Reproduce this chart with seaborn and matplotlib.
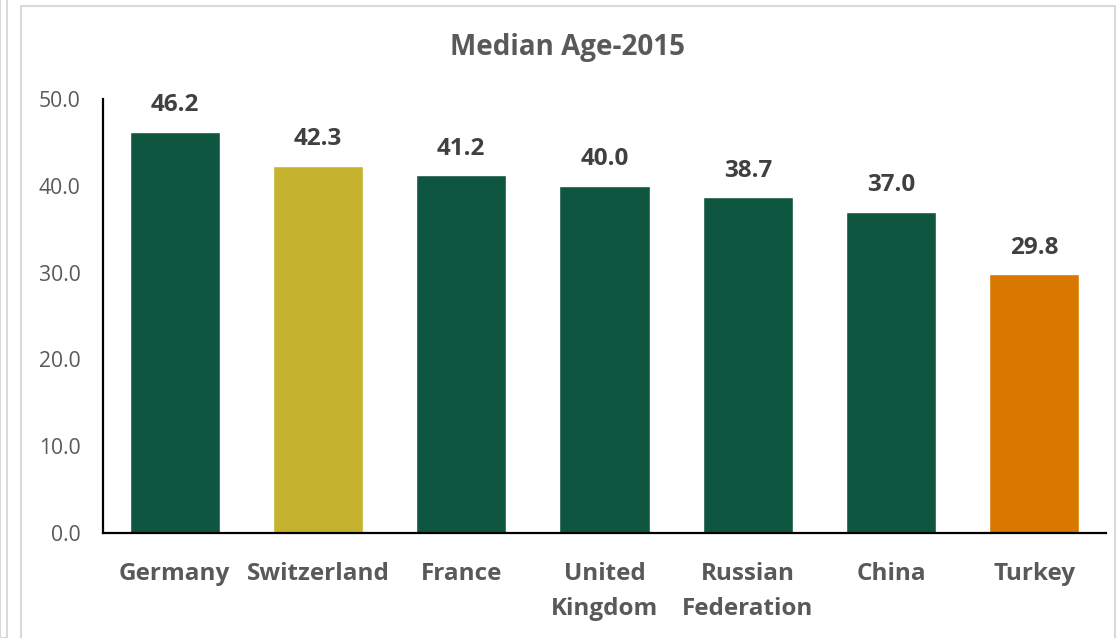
import matplotlib
matplotlib.use("Agg")
import matplotlib.pyplot as plt
import seaborn as sns
import pandas as pd
from matplotlib.patches import Rectangle

countries = ["Germany", "Switzerland", "France", "United\nKingdom", "Russian\nFederation", "China", "Turkey"]
median_age = [46.2, 42.3, 41.2, 40.0, 38.7, 37.0, 29.8]
bar_colors = ["#0F5641", "#C5B22F", "#0F5641", "#0F5641", "#0F5641", "#0F5641", "#D97800"]
yticks = [0, 10, 20, 30, 40, 50]
title = "Median Age-2015"

sns.set_theme(style="white")
plt.rcParams['font.family'] = ['Open Sans', 'DejaVu Sans']

df = pd.DataFrame({"country": countries, "age": median_age})

fig = plt.figure(figsize=(11.2, 6.38), dpi=100)
# chart frame
fig.patches.append(Rectangle((21/1120, -0.05), (1115-21)/1120, (638-6)/638 + 0.05,
                             transform=fig.transFigure, fill=False, edgecolor="#D9D9D9", lw=1.5))
fig.patches.append(Rectangle((0, 0), 7/1120, 1.2, transform=fig.transFigure,
                             fill=False, edgecolor="#D9D9D9", lw=1.5))

ax = fig.add_axes([103/1120, (638-533)/638, (1106-103)/1120, (533-99)/638])
sns.barplot(data=df, x="country", y="age", hue="country", palette=bar_colors,
            legend=False, width=0.63, ax=ax, saturation=1)

ax.set_ylim(0, 50)
ax.set_xlim(-0.5, len(countries) - 0.5)
ax.set_yticks(yticks)
ax.set_yticklabels([f"{v:.1f}" for v in yticks], color="#595959", fontsize=15.2)
ax.tick_params(axis="y", length=0, pad=16)
ax.tick_params(axis="x", length=0, pad=21)
for lab in ax.get_xticklabels():
    lab.set_fontweight("bold")
    lab.set_fontsize(17.5)
    lab.set_color("#595959")
    lab.set_linespacing(1.6)
    lab.set_verticalalignment("top")
ax.set_xlabel("")
ax.set_ylabel("")
for s in ["top", "right"]:
    ax.spines[s].set_visible(False)
for s in ["left", "bottom"]:
    ax.spines[s].set_color("black")
    ax.spines[s].set_linewidth(1.6)

for i, v in enumerate(median_age):
    ax.annotate(f"{v:.1f}", (i, v), xytext=(0, 10.5), textcoords="offset points",
                ha="center", va="bottom", fontsize=17.5, fontweight="bold", color="#404040")

fig.text(567/1120, 1 - 47/638, title, ha="center", va="center", fontsize=20,
         fontweight="bold", color="#595959")

fig.savefig("out.png", dpi=100)
